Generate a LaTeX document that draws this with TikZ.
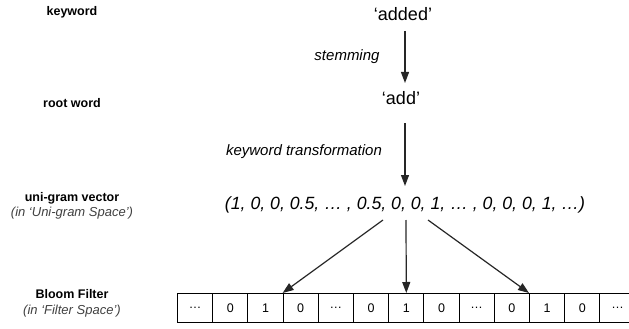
\documentclass[tikz,border=0pt]{standalone}
\usepackage{fontspec}
\setmainfont{Liberation Sans}
\usetikzlibrary{arrows.meta,calc}
\begin{document}
\begin{tikzpicture}[x=1pt,y=-1pt,
  lbl/.style={font=\fontsize{12.5}{14}\selectfont\bfseries, inner sep=0},
  sub/.style={font=\fontsize{13}{15}\selectfont\itshape, text=black!75, inner sep=0},
  word/.style={font=\fontsize{18}{20}\selectfont, inner sep=0},
  op/.style={font=\fontsize{15}{17}\selectfont\itshape, inner sep=0},
  arr/.style={draw=black!85, line width=1.2pt, -{Triangle[length=11pt,width=8pt]}},
  cell/.style={draw, line width=1pt, minimum width=35.2pt, minimum height=29pt, inner sep=0,
    font=\fontsize{12.5}{14}\selectfont, anchor=north west}
]
\useasboundingbox (0,0) rectangle (629,329);

% left labels
\node[lbl] (lkey) at (72,12) {keyword};
\node[lbl] (lroot) at (72,103) {root word};
\node[lbl] (luni) at (72,198) {uni-gram vector};
\node[sub] (luni2) at (72,213) {(in ‘Uni-gram Space’)};
\node[lbl] (lbloom) at (72,294) {Bloom Filter};
\node[sub] (lbloom2) at (72,311) {(in ‘Filter Space’)};

% main column
\node[word] (added) at (403,14) {‘added’};
\node[word] (add) at (401,98) {‘add’};
\node[word,font=\fontsize{17.7}{20}\selectfont\itshape] (vec) at (405,205)
  {(1, 0, 0, 0.5, … , 0.5, 0, 0, 1, … , 0, 0, 0, 1, …)};

\node[op] (stem) at (347,57) {stemming};
\node[op] (trans) at (304,152) {keyword transformation};

\coordinate (a1s) at (405,31);
\coordinate (a1e) at (405,83);
\coordinate (a2s) at (405,123);
\coordinate (a2e) at (405,186);
\draw[arr] (a1s) -- (a1e);
\draw[arr] (a2s) -- (a2e);

% bloom filter cells
\begin{scope}
\clip (0,0) rectangle (629,329);
\foreach \i/\t in {1/…,2/0,3/1,4/0,5/…,6/0,7/1,8/0,9/…,10/0,11/1,12/0,13/…}{
  \node[cell] (c\i) at ({177+35.2*(\i-1)},293) {\t};
}
\end{scope}

\coordinate (v1) at (383,220);
\coordinate (v2) at (406,220);
\coordinate (v3) at (428,220);
\draw[arr] (v1) -- (c4.north west);
\draw[arr] (v2) -- (c7.north);
\draw[arr] (v3) -- (c11.north west);
\end{tikzpicture}
\end{document}
